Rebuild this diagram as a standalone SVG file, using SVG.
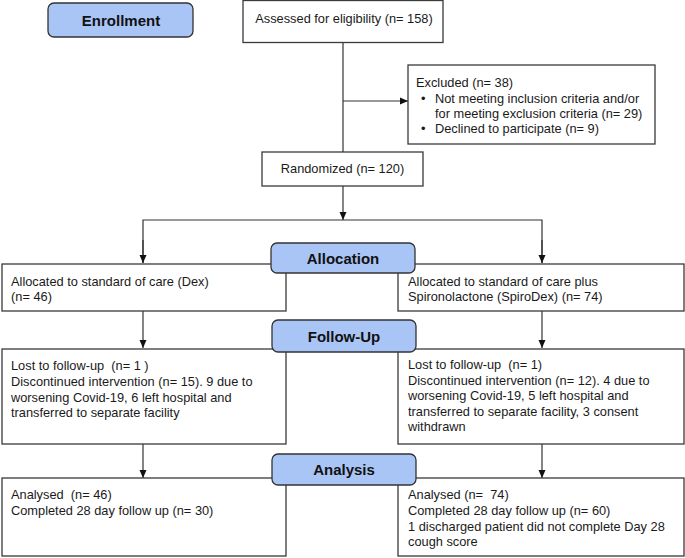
<svg xmlns="http://www.w3.org/2000/svg" width="685" height="558" viewBox="0 0 685 558">
<style>
.box{fill:#fff;stroke:#3a3a3a;stroke-width:1.3}
.stage{fill:#a9c5f6;stroke:#333;stroke-width:1.3}
.t{font-family:"Liberation Sans",Arial,sans-serif;font-size:12.8px;fill:#1a1a1a;white-space:pre}
.h{font-family:"Liberation Sans",Arial,sans-serif;font-size:15px;font-weight:bold;fill:#111;text-anchor:middle}
.c{text-anchor:middle}
.ln{fill:none;stroke:#333;stroke-width:1.2}
</style>
<defs>
<marker id="ah" viewBox="0 0 8 8" refX="8" refY="4" markerWidth="8" markerHeight="8" markerUnits="userSpaceOnUse" orient="auto">
<path d="M0,0.5 L8,4 L0,7.5 Z" fill="#111"/>
</marker>
</defs>
<g id="connectors">
<line class="ln" x1="343" y1="42" x2="343" y2="152"/>
<line class="ln" x1="343" y1="101" x2="408" y2="101" marker-end="url(#ah)"/>
<line class="ln" x1="343" y1="186" x2="343" y2="220" marker-end="url(#ah)"/>
<polyline class="ln" points="143,263 143,220 542,220 542,263"/>
<line class="ln" x1="143" y1="240" x2="143" y2="263" marker-end="url(#ah)"/>
<line class="ln" x1="542" y1="240" x2="542" y2="263" marker-end="url(#ah)"/>
<line class="ln" x1="143" y1="311" x2="143" y2="348" marker-end="url(#ah)"/>
<line class="ln" x1="542" y1="311" x2="542" y2="348" marker-end="url(#ah)"/>
<line class="ln" x1="143" y1="444" x2="143" y2="478" marker-end="url(#ah)"/>
<line class="ln" x1="542" y1="444" x2="542" y2="478" marker-end="url(#ah)"/>
</g>
<g id="enrollment">
<rect class="stage" x="48" y="3" width="145" height="34" rx="6"/>
<text class="h" x="121" y="25.5">Enrollment</text>
</g>
<g id="assessed">
<rect class="box" x="243" y="0.5" width="200" height="42"/>
<text class="t c" x="344" y="23">Assessed for eligibility (n= 158)</text>
</g>
<g id="excluded">
<rect class="box" x="408" y="65" width="247" height="79"/>
<text class="t" x="416" y="87">Excluded (n= 38)</text>
<text class="t" x="421" y="103">•</text>
<text class="t" x="435" y="103">Not meeting inclusion criteria and/or</text>
<text class="t" x="435" y="118">for meeting exclusion criteria (n= 29)</text>
<text class="t" x="421" y="133">•</text>
<text class="t" x="435" y="133">Declined to participate (n= 9)</text>
</g>
<g id="randomized">
<rect class="box" x="262" y="152" width="161" height="34"/>
<text class="t c" x="342.5" y="173">Randomized (n= 120)</text>
</g>
<g id="alloc-left">
<rect class="box" x="2" y="264" width="284" height="47"/>
<text class="t" x="11" y="286">Allocated to standard of care (Dex)</text>
<text class="t" x="11" y="301">(n= 46)</text>
</g>
<g id="alloc-right">
<rect class="box" x="398" y="264" width="286" height="47"/>
<text class="t" x="408" y="286">Allocated to standard of care plus</text>
<text class="t" x="408" y="301">Spironolactone (SpiroDex) (n= 74)</text>
</g>
<g id="allocation">
<rect class="stage" x="271" y="243" width="144" height="30" rx="6"/>
<text class="h" x="343" y="263.5">Allocation</text>
</g>
<g id="follow-left">
<rect class="box" x="2" y="349" width="284" height="95"/>
<text class="t" x="11" y="370">Lost to follow-up  (n= 1 )</text>
<text class="t" x="11" y="386">Discontinued intervention (n= 15). 9 due to</text>
<text class="t" x="11" y="401.5">worsening Covid-19, 6 left hospital and</text>
<text class="t" x="11" y="417">transferred to separate facility</text>
</g>
<g id="follow-right">
<rect class="box" x="398" y="349" width="286" height="95"/>
<text class="t" x="408" y="369">Lost to follow-up  (n= 1)</text>
<text class="t" x="408" y="384.5">Discontinued intervention (n= 12). 4 due to</text>
<text class="t" x="408" y="400">worsening Covid-19, 5 left hospital and</text>
<text class="t" x="408" y="415.5">transferred to separate facility, 3 consent</text>
<text class="t" x="408" y="431">withdrawn</text>
</g>
<g id="followup">
<rect class="stage" x="272" y="320" width="144" height="32" rx="6"/>
<text class="h" x="344" y="341.5">Follow-Up</text>
</g>
<g id="analysed-left">
<rect class="box" x="2" y="478" width="284" height="78"/>
<text class="t" x="11" y="499">Analysed  (n= 46)</text>
<text class="t" x="11" y="515">Completed 28 day follow up (n= 30)</text>
</g>
<g id="analysed-right">
<rect class="box" x="398" y="478" width="286" height="78"/>
<text class="t" x="408" y="499">Analysed (n=  74)</text>
<text class="t" x="408" y="515">Completed 28 day follow up (n= 60)</text>
<text class="t" x="408" y="530.5">1 discharged patient did not complete Day 28</text>
<text class="t" x="408" y="546">cough score</text>
</g>
<g id="analysis">
<rect class="stage" x="272" y="454" width="144" height="31" rx="6"/>
<text class="h" x="344" y="475">Analysis</text>
</g>
</svg>
